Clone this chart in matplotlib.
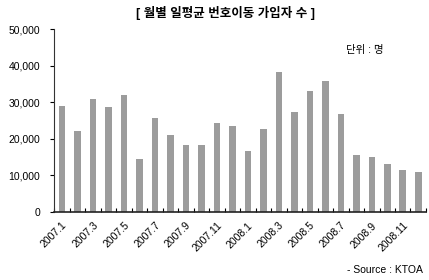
import matplotlib
matplotlib.use("Agg")
import matplotlib.pyplot as plt
import numpy as np

plt.rcParams['font.family'] = ['Liberation Sans', 'Noto Sans CJK KR']

months = ['2007.1','2007.2','2007.3','2007.4','2007.5','2007.6','2007.7','2007.8','2007.9','2007.10','2007.11','2007.12',
          '2008.1','2008.2','2008.3','2008.4','2008.5','2008.6','2008.7','2008.8','2008.9','2008.10','2008.11','2008.12']
values = [29000, 22100, 30900, 28700, 32000, 14500, 25700, 21000, 18300, 18300, 24300, 23400,
          16700, 22700, 38300, 27300, 33100, 35800, 26800, 15600, 15000, 13100, 11500, 11000]
yticks = [0, 10000, 20000, 30000, 40000, 50000]
ytick_labels = ['0', '10,000', '20,000', '30,000', '40,000', '50,000']

fig = plt.figure(figsize=(4.29, 2.80), dpi=100)
ax = fig.add_axes([0.126, 0.243, 0.867, 0.653])
x = np.arange(len(months))
ax.bar(x, values, width=0.42, color='#9c9c9c', edgecolor='none')
ax.set_xlim(-0.5, len(months) - 0.5)
ax.set_ylim(0, 50000)
ax.set_yticks(yticks)
ax.set_yticklabels(ytick_labels, fontsize=7.5)
ax.set_xticks(x[::2])
ax.set_xticklabels(months[::2], rotation=45, ha='right', rotation_mode='anchor', fontsize=7.5)
ax.tick_params(axis='x', length=0, pad=6)
ax.set_xticks(np.arange(-0.5, len(months)), minor=True)
ax.tick_params(axis='x', which='minor', direction='in', length=3, width=0.8)
ax.tick_params(axis='y', direction='out', length=3, width=0.8, pad=7)
for s in ['top', 'right']:
    ax.spines[s].set_visible(False)
ax.spines['left'].set_color('#333333')
ax.spines['bottom'].set_color('#222222')
ax.spines['bottom'].set_linewidth(1.2)

fig.text(0.525, 0.955, '[ 월별 일평균 번호이동 가입자 수 ]', ha='center', va='center', fontsize=9, fontweight='bold')
fig.text(0.85, 0.82, '단위 : 명', ha='center', va='center', fontsize=7.5)
fig.text(0.985, 0.035, '- Source : KTOA', ha='right', va='center', fontsize=7.5)

fig.savefig('out.png', dpi=100)
